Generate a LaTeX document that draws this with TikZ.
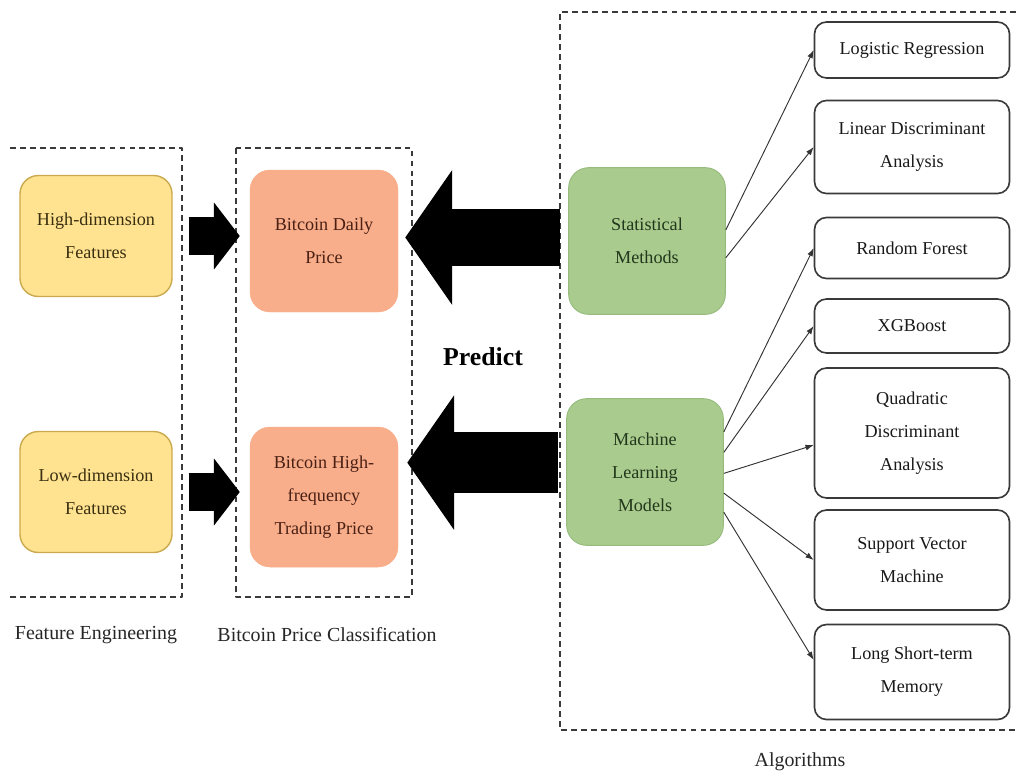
\documentclass[tikz,border=0pt]{standalone}
\usepackage{fontspec}
\setmainfont{Liberation Serif}
\usepackage{tikz}
\usetikzlibrary{positioning}
\usetikzlibrary{arrows.meta}

\definecolor{featfill}{HTML}{FFE391}
\definecolor{featdraw}{HTML}{CBA94C}
\definecolor{feattext}{HTML}{3A2F10}
\definecolor{pricefill}{HTML}{F9AE8B}
\definecolor{pricetext}{HTML}{4A2014}
\definecolor{methfill}{HTML}{A9CB8E}
\definecolor{methdraw}{HTML}{97BB7D}
\definecolor{methtext}{HTML}{22381C}
\definecolor{framegray}{HTML}{3A3A3A}

\begin{document}
\begin{tikzpicture}[x=0.03cm,y=-0.03cm,>={Latex[length=7pt,width=5pt]},line join=bevel,
    boxtext/.style={font=\fontsize{15.5}{28}\selectfont,align=center},
    feature/.style={boxtext,rectangle,rounded corners=0.55cm,draw=featdraw,fill=featfill,line width=1.2pt,
        minimum width=4.56cm,minimum height=3.63cm,text=feattext},
    price/.style={boxtext,rectangle,rounded corners=0.6cm,draw=pricefill,fill=pricefill,
        minimum width=4.44cm,minimum height=4.26cm,text=pricetext},
    method/.style={boxtext,rectangle,rounded corners=0.6cm,draw=methdraw,fill=methfill,line width=0.8pt,
        minimum width=4.7cm,minimum height=4.4cm,text=methtext},
    algo/.style={boxtext,rectangle,rounded corners=0.36cm,draw=framegray,fill=white,line width=1.4pt,
        minimum width=5.85cm,text=black!90},
    frame/.style={draw=framegray,line width=1.6pt,dash pattern=on 5pt off 3.5pt},
    label/.style={font=\fontsize{17}{20}\selectfont,text=black!85},
    link/.style={color=black!80,line width=0.8pt,->}
    ]
        \useasboundingbox (0,0) rectangle (1017,776);
        %
        \draw[frame] (10,148) -- (182,148) -- (182,597) -- (10,597);
        \draw[frame] (236,148) rectangle (412,597);
        \draw[frame] (1016,12) -- (560,12) -- (560,730) -- (1016,730);
        %
        \node (highdim) at (96,236) [feature] {High-dimension\\Features};
        \node (lowdim) at (96,492) [feature] {Low-dimension\\Features};
        \node (daily) at (324,241) [price] {Bitcoin Daily\\Price};
        \node (highfreq) at (324,497) [price, minimum height=4.2cm] {Bitcoin High-\\frequency\\Trading Price};
        \node (statistical) at (647,241) [method] {Statistical\\Methods};
        \node (machine) at (645,472) [method] {Machine\\Learning\\Models};
        \node (predict) at (483,357) [font=\fontsize{22}{24}\selectfont\bfseries] {Predict};
        %
        \node (logistic) at (912,50) [algo,minimum height=1.68cm] {Logistic Regression};
        \node (lda) at (912,147) [algo,minimum height=2.79cm] {Linear Discriminant\\Analysis};
        \node (forest) at (912,248) [algo,minimum height=1.83cm] {Random Forest};
        \node (xgboost) at (912,326) [algo,minimum height=1.62cm] {XGBoost};
        \node (qda) at (912,433) [algo,minimum height=3.9cm] {Quadratic\\Discriminant\\Analysis};
        \node (svm) at (912,560) [algo,minimum height=3.0cm] {Support Vector\\Machine};
        \node (lstm) at (912,672) [algo,minimum height=2.85cm] {Long Short-term\\Memory};
        %
        \node (featlabel) at (96,635) [label] {Feature Engineering};
        \node (pricelabel) at (327,635) [label] {Bitcoin Price Classification};
        \node (algolabel) at (800,762) [label] {Algorithms};
        %
        \coordinate (mlout) at ([yshift=8pt]machine.west);
        \draw [black,line width=32pt,-{Triangle[length=22pt,width=56pt]},shorten <=16*0.03cm,shorten >=10*0.03cm]
            (highdim.east) -- (highdim.east -| daily.west);
        \draw [black,line width=32pt,-{Triangle[length=22pt,width=56pt]},shorten <=16*0.03cm,shorten >=10*0.03cm]
            (lowdim.east) -- (lowdim.east -| highfreq.west);
        \draw [black,line width=48pt,-{Triangle[length=40pt,width=113pt]},shorten <=8*0.03cm,shorten >=7*0.03cm]
            ([yshift=3pt]statistical.west) -- ([yshift=3pt]statistical.west -| daily.east);
        \draw [black,line width=52pt,-{Triangle[length=40pt,width=113pt]},shorten <=8*0.03cm,shorten >=9*0.03cm]
            (mlout) -- (mlout -| highfreq.east);
        %
        \draw [link] (statistical.8) to (logistic.west);
        \draw [link] (statistical.-12) to (lda.west);
        \draw [link] (machine.27) to (forest.west);
        \draw [link] (machine.14) to (xgboost.west);
        \draw [link] (machine.-1) to (qda.187);
        \draw [link] (machine.-15) to (svm.west);
        \draw [link] (machine.-27) to (lstm.173);
        %
    \end{tikzpicture}
\end{document}
